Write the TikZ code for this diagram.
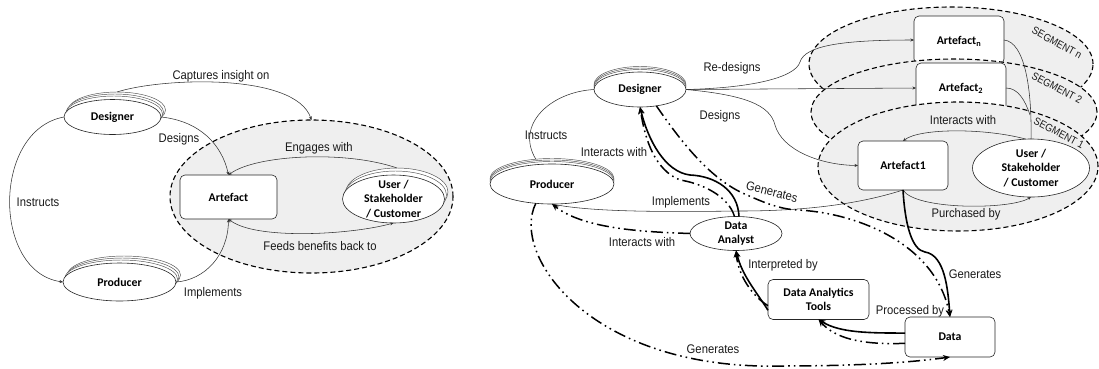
\documentclass[tikz,border=0pt]{standalone}
\usepackage{fontspec}
\setmainfont{Liberation Sans}
\newfontfamily\lblfam[FakeStretch=0.9]{Liberation Sans}
\newfontfamily\boldfam[BoldFont={Carlito Bold}]{Carlito}
\usetikzlibrary{shapes.geometric,arrows.meta}
\definecolor{seg}{HTML}{EFEFEF}
\definecolor{ink}{HTML}{1A1A1A}
\tikzset{
  lbl/.style={font=\lblfam\fontsize{12.5}{14}\selectfont,text=ink,inner sep=0pt,outer sep=0pt},
  seglbl/.style={font=\lblfam\fontsize{10.6}{12}\selectfont,text=ink,inner sep=0pt},
  bold/.style={font=\boldfam\bfseries\fontsize{11.8}{14.5}\selectfont,text=black,align=center},
  ell/.style={ellipse,draw=black!85,line width=0.6pt,fill=white,inner sep=0pt,outer sep=0pt},
  back/.style={ell,draw=black!70,line width=0.45pt},
  rbox/.style={rectangle,rounded corners=5pt,draw=black!85,line width=0.6pt,fill=white,inner sep=0pt,outer sep=0pt,bold},
  segell/.style={ellipse,draw=black,fill=seg,line width=1.1pt,dash pattern=on 5pt off 3pt,inner sep=0pt,outer sep=0pt},
  thin link/.style={draw=black!80,line width=0.55pt,-{Stealth[length=3.5pt,width=3pt]}},
  plain link/.style={draw=black!80,line width=0.55pt},
  solid link/.style={draw=black,line width=1.6pt,-{Stealth[length=7pt,width=6pt]}},
  dd link/.style={draw=black,line width=1.5pt,dash pattern=on 12pt off 4pt on 1.6pt off 4pt on 1.6pt off 4pt,-{Stealth[length=7pt,width=6pt]}},
}
\begin{document}
\begin{tikzpicture}[x=1pt,y=-1pt]
\useasboundingbox (0,0) rectangle (1099,368);

% ---------- left panel ----------
\node[segell,minimum width=283pt,minimum height=153pt] (segL) at (311.5,196.5) {};
\node[rbox,minimum width=97pt,minimum height=44pt] (artL) at (228.5,197) {Artefact};

\node[back,minimum width=97pt,minimum height=36pt] (desLc) at (117,110) {};
\node[back,minimum width=97pt,minimum height=36pt] (desLb) at (115,112) {};
\node[back,minimum width=97pt,minimum height=36pt] (desLa) at (114,114) {};
\node[ell,minimum width=97pt,minimum height=35pt,label={[bold]center:Designer}] (desL) at (112.5,117) {};

\node[back,minimum width=113pt,minimum height=38pt] (proLc) at (124,275) {};
\node[back,minimum width=113pt,minimum height=38pt] (proLb) at (122.5,277) {};
\node[back,minimum width=113pt,minimum height=38pt] (proLa) at (121,279) {};
\node[ell,minimum width=113pt,minimum height=38pt,label={[bold]center:Producer}] (proL) at (119.5,282) {};

\node[back,minimum width=102pt,minimum height=48pt] (usrLb) at (397,192) {};
\node[back,minimum width=102pt,minimum height=48pt] (usrLa) at (395.5,195) {};
\node[ell,minimum width=102pt,minimum height=48pt,label={[bold]center:User /\\Stakeholder\\/ Customer}] (usrL) at (393.5,199) {};

\draw[thin link] (desLc.north) .. controls (160,78) and (295,72) .. (segL.north);
\draw[thin link] (desL.east) .. controls (200,121) and (222,145) .. (artL.north);
\draw[thin link] (desL.west) .. controls (-8,130) and (-8,272) .. (proL.west);
\draw[thin link] (proL.east) .. controls (205,280) and (228,255) .. (artL.south);
\draw[thin link] (usrLb.north) .. controls (345,150) and (255,155) .. (artL.north);
\draw[draw=black!80,line width=0.55pt,{Stealth[length=3.5pt,width=3pt]}-{Stealth[length=3.5pt,width=3pt]}] (artL.south) .. controls (255,240) and (350,235) .. (usrL.south);

\node[lbl] (lCap) at (221,76) {Captures insight on};
\node[lbl] (lDes) at (179,139.5) {Designs};
\node[lbl] (lEng) at (319,148) {Engages with};
\node[lbl] (lIns) at (38,202) {Instructs};
\node[lbl] (lFee) at (320,246) {Feeds benefits back to};
\node[lbl] (lImp) at (213,293.5) {Implements};

% ---------- right panel: segments ----------
\node[segell,minimum width=284pt,minimum height=114pt] (segN) at (951,64) {};
\node[rbox,minimum width=90pt,minimum height=48pt,anchor=north] (artN) at (959,16) {};
\node[bold] (artNt) at (959,41) {Artefact\textsubscript{n}};
\node[segell,minimum width=286pt,minimum height=106pt] (seg2) at (954,112) {};
\node[rbox,minimum width=90pt,minimum height=50pt,anchor=north] (art2) at (961,63) {};
\node[bold] (art2t) at (961,88) {Artefact\textsubscript{2}};
\node[segell,minimum width=280pt,minimum height=129pt] (seg1) at (958,166.5) {};
\node[rbox,minimum width=90pt,minimum height=49pt] (art1) at (903,165.5) {Artefact1};
\node[ell,minimum width=117pt,minimum height=58pt,label={[bold]center:User /\\Stakeholder\\/ Customer}] (usrR) at (1031,168) {};

\node[rbox,minimum width=101pt,minimum height=40pt] (tools) at (818.5,299.5) {Data Analytics\\Tools};
\node[rbox,minimum width=90pt,minimum height=40pt] (data) at (950,337) {Data};

\node[back,minimum width=92pt,minimum height=36pt] (desRc) at (640,84.5) {};
\node[back,minimum width=92pt,minimum height=36pt] (desRb) at (640,86) {};
\node[back,minimum width=92pt,minimum height=36pt] (desRa) at (640,87.5) {};
\node[ell,minimum width=92pt,minimum height=35pt,label={[bold]center:Designer}] (desR) at (640,89.5) {};

\node[back,minimum width=124pt,minimum height=40pt] (proRc) at (552,178.5) {};
\node[back,minimum width=124pt,minimum height=40pt] (proRb) at (552,180) {};
\node[back,minimum width=124pt,minimum height=40pt] (proRa) at (552,181.5) {};
\node[ell,minimum width=124pt,minimum height=40pt,label={[bold]center:Producer}] (proR) at (552,184) {};

\node[ell,minimum width=92pt,minimum height=34pt,label={[bold]center:Data\\Analyst}] (ana) at (736,233.5) {};

% thin links
\draw[thin link] (desR.east) .. controls (750,88) and (795,78) .. (800,62) .. controls (805,46) and (840,40) .. (artN.west);
\draw[thin link] (desR.east) -- (art2.west);
\draw[thin link] (desR.east) .. controls (745,95) and (770,105) .. (775,125) .. controls (782,150) and (820,165) .. (art1.west);
\draw[plain link] (proRc.130) .. controls (515,125) and (550,92) .. (desR.west);
\draw[plain link] (art1.south) .. controls (850,207) and (790,211) .. (740,211) .. controls (660,212) and (590,212) .. (proR.south);
\draw[thin link] (art1.south) .. controls (915,210) and (1010,210) .. (usrR.south);
\draw[thin link] (usrR.100) .. controls (985,128) and (920,128) .. (art1.north);
\draw[plain link] (artN.east) .. controls (1025,42) and (1032,90) .. (usrR.north);
\draw[plain link] (art2.east) .. controls (1018,88) and (1025,100) .. (1030,115);

% bold links
\draw[solid link] (ana.80) .. controls (738,190) and (715,176) .. (690,175) .. controls (665,172) and (648,140) .. (desR.south);
\draw[dd link] (ana.95) .. controls (728,195) and (700,183) .. (680,180) .. controls (655,170) and (645,140) .. (desR.south);
\draw[dd link] (desR.-45) .. controls (680,140) and (710,180) .. (747,195) .. controls (765,203) and (780,209) .. (797,210) .. controls (850,212) and (935,240) .. (data.north);
\draw[solid link] (art1.south) .. controls (905,225) and (912,250) .. (925,252) .. controls (945,255) and (948,290) .. (data.north);
\draw[dd link] (ana.west) .. controls (650,232) and (585,230) .. (proR.south);
\draw[dd link] (proR.-130) .. controls (510,255) and (590,370) .. (780,366) .. controls (840,366) and (900,364) .. (data.south);
\draw[solid link] (tools.192) .. controls (755,290) and (742,275) .. (ana.south);
\draw[dd link] (tools.187) .. controls (752,296) and (738,275) .. (ana.south);
\draw[solid link] (data.175) .. controls (870,333) and (840,333) .. (tools.south);
\draw[dd link] (data.188) .. controls (860,345) and (835,338) .. (tools.south);

% labels
\node[lbl] (rRed) at (732,68) {Re-designs};
\node[lbl] (rDes) at (720,116) {Designs};
\node[lbl] (rIns) at (546,135) {Instructs};
\node[lbl] (rInt1) at (614,152) {Interacts with};
\node[lbl,rotate=-14] (rGen1) at (772,192) {Generates};
\node[lbl] (rImp) at (681,202) {Implements};
\node[lbl] (rInt2) at (642,242) {Interacts with};
\node[lbl] (rItp) at (783,265) {Interpreted by};
\node[lbl] (rGen2) at (713,349) {Generates};
\node[lbl] (rPro) at (910,311) {Processed by};
\node[lbl] (rGen3) at (975,274) {Generates};
\node[lbl] (rPur) at (966,214) {Purchased by};
\node[lbl] (rInt3) at (963,120) {Interacts with};
\node[seglbl,rotate=-29] (sN) at (1057,43) {SEGMENT n};
\node[seglbl,rotate=-28] (s2) at (1057,88) {SEGMENT 2};
\node[seglbl,rotate=-28] (s1) at (1059,133) {SEGMENT 1};
\end{tikzpicture}
\end{document}
